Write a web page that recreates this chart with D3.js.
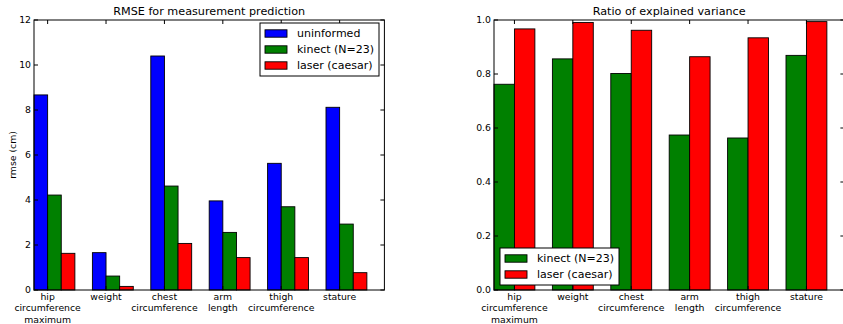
<!DOCTYPE html>
<html>
<head>
<meta charset="utf-8">
<script src="https://cdn.jsdelivr.net/npm/d3@7"></script>
<style>
  body { margin: 0; background: #fff; }
  text { font-family: "DejaVu Sans", sans-serif; fill: #000; }
</style>
</head>
<body>
<div id="chart"></div>
<script>
// Data
const categories = [
  ["hip", "circumference", "maximum"],
  ["weight"],
  ["chest", "circumference"],
  ["arm", "length"],
  ["thigh", "circumference"],
  ["stature"]
];
const rmseUninformed = [8.67, 1.66, 10.4, 3.96, 5.63, 8.12];
const rmseKinect = [4.22, 0.62, 4.62, 2.56, 3.70, 2.93];
const rmseLaser = [1.63, 0.16, 2.07, 1.44, 1.44, 0.77];
const varKinect = [0.762, 0.856, 0.802, 0.574, 0.563, 0.869];
const varLaser = [0.967, 0.991, 0.962, 0.864, 0.934, 0.994];
const rmseTicks = [0, 2, 4, 6, 8, 10, 12];
const varTicks = [0, 0.2, 0.4, 0.6, 0.8, 1.0];

const W = 843, H = 324;
const plotTop = 20, plotBottom = 290;

const svg = d3.select("#chart").append("svg")
  .attr("width", W)
  .attr("height", H);
svg.append("rect").attr("width", W).attr("height", H).attr("fill", "#fff");

// Draw one panel
function panel(opts) {
  const x = d3.scaleLinear().domain([0, 6]).range([opts.left, opts.left + 350.4]);
  const y = d3.scaleLinear().domain(opts.yDomain).range([plotBottom, plotTop]);
  const g = svg.append("g");
  const bw = x(opts.width) - x(0);

  // bars
  opts.series.forEach((s, k) => {
    g.selectAll(null)
      .data(s.values)
      .join("rect")
      .attr("x", (d, i) => x(i + k * opts.width))
      .attr("y", d => y(d))
      .attr("width", bw)
      .attr("height", d => y(0) - y(d))
      .attr("fill", s.color)
      .attr("stroke", "#000")
      .attr("stroke-width", 0.9);
  });

  // frame
  g.append("rect")
    .attr("x", x(0)).attr("y", plotTop)
    .attr("width", x(6) - x(0)).attr("height", plotBottom - plotTop)
    .attr("fill", "none").attr("stroke", "#000").attr("stroke-width", 1);

  // y ticks (inward, both sides)
  opts.yTicks.forEach(t => {
    g.append("line").attr("x1", x(0)).attr("x2", x(0) + 4)
      .attr("y1", y(t)).attr("y2", y(t)).attr("stroke", "#000");
    g.append("line").attr("x1", x(6)).attr("x2", x(6) - 4)
      .attr("y1", y(t)).attr("y2", y(t)).attr("stroke", "#000");
    g.append("text")
      .attr("x", x(0) - 3).attr("y", y(t))
      .attr("dy", "0.35em")
      .attr("text-anchor", "end")
      .style("font-size", "9.3px")
      .text(opts.yFormat(t));
  });

  // x ticks and labels
  categories.forEach((lines, i) => {
    const cx = x(i + opts.tickOffset);
    g.append("line").attr("x1", cx).attr("x2", cx)
      .attr("y1", plotTop).attr("y2", plotTop + 4).attr("stroke", "#000");
    g.append("line").attr("x1", cx).attr("x2", cx)
      .attr("y1", plotBottom).attr("y2", plotBottom - 4).attr("stroke", "#000");
    const t = g.append("text")
      .attr("text-anchor", "middle")
      .style("font-size", "9.3px");
    lines.forEach((ln, j) => {
      t.append("tspan").attr("x", cx).attr("y", 300 + j * 11.3).text(ln);
    });
  });

  // title
  g.append("text")
    .attr("x", (x(0) + x(6)) / 2).attr("y", 15)
    .attr("text-anchor", "middle")
    .style("font-size", "11.2px")
    .text(opts.title);

  // legend
  const lg = g.append("g");
  lg.append("rect")
    .attr("x", opts.legend.x).attr("y", opts.legend.y)
    .attr("width", 119).attr("height", opts.series.length * 16 + 5)
    .attr("fill", "#fff").attr("stroke", "#000").attr("stroke-width", 1);
  opts.series.forEach((s, k) => {
    const cy = opts.legend.y + 10.5 + k * 16;
    lg.append("rect")
      .attr("x", opts.legend.x + 5).attr("y", cy - 3.7)
      .attr("width", 22).attr("height", 7.4)
      .attr("fill", s.color).attr("stroke", "#000").attr("stroke-width", 0.9);
    lg.append("text")
      .attr("x", opts.legend.x + 37).attr("y", cy)
      .attr("dy", "0.36em")
      .style("font-size", "11px")
      .text(s.name);
  });
  return { x, y };
}

panel({
  left: 34,
  yDomain: [0, 12],
  yTicks: rmseTicks,
  yFormat: d => String(d),
  width: 0.7 / 3,
  tickOffset: 0.7 / 3,
  title: "RMSE for measurement prediction",
  series: [
    { name: "uninformed", values: rmseUninformed, color: "#0000ff" },
    { name: "kinect (N=23)", values: rmseKinect, color: "#008000" },
    { name: "laser (caesar)", values: rmseLaser, color: "#ff0000" }
  ],
  legend: { x: 260, y: 23 }
});

// y axis label of the left panel
svg.append("text")
  .attr("transform", "translate(16,155) rotate(-90)")
  .attr("text-anchor", "middle")
  .style("font-size", "9.3px")
  .text("rmse (cm)");

panel({
  left: 494,
  yDomain: [0, 1],
  yTicks: varTicks,
  yFormat: d3.format(".1f"),
  width: 0.35,
  tickOffset: 0.35,
  title: "Ratio of explained variance",
  series: [
    { name: "kinect (N=23)", values: varKinect, color: "#008000" },
    { name: "laser (caesar)", values: varLaser, color: "#ff0000" }
  ],
  legend: { x: 500, y: 248 }
});
</script>
</body>
</html>
